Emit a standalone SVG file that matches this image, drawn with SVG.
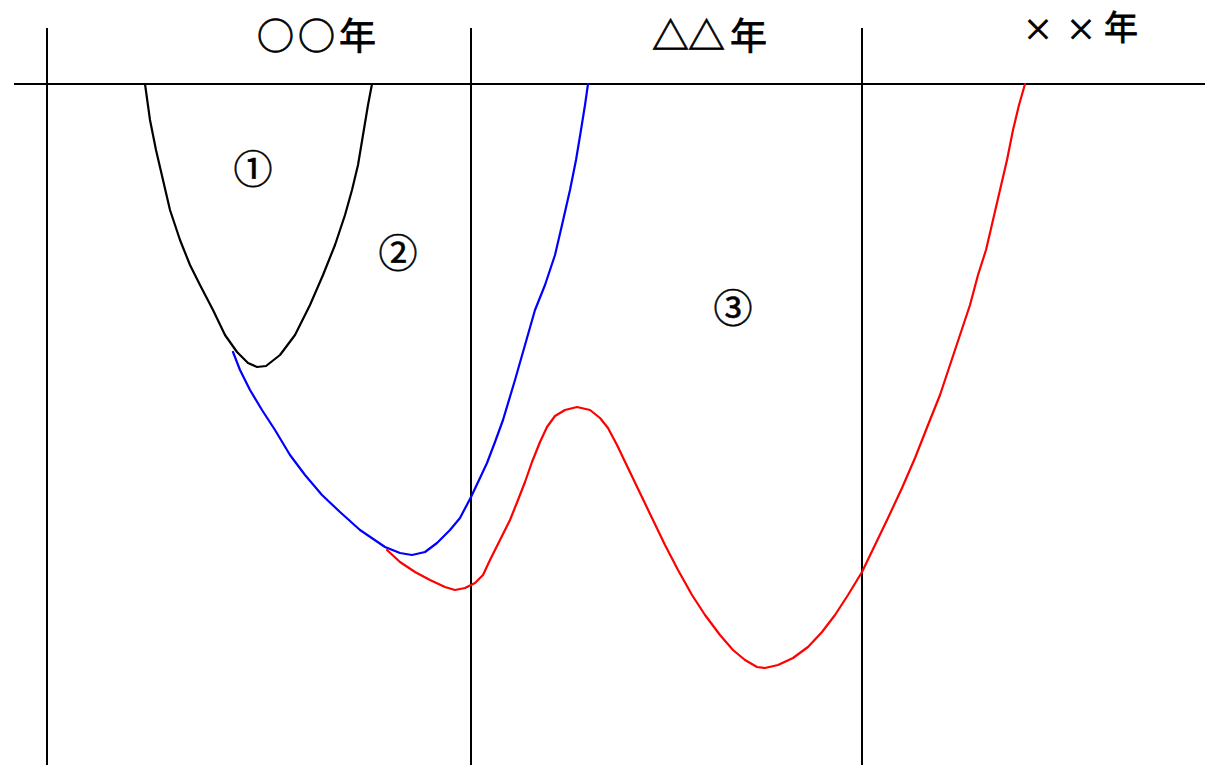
<svg xmlns="http://www.w3.org/2000/svg" width="1205" height="765" viewBox="0 0 1205 765">
<style>
.axis{stroke:#000;stroke-width:2;fill:none}
.curve{fill:none;stroke-width:2.2;stroke-linejoin:round;stroke-linecap:round}
.hdr{font-family:"Noto Sans CJK JP","Noto Sans CJK SC",sans-serif;font-size:37px;fill:#000;stroke:#000;stroke-width:0.8}
.lbl{font-family:"Noto Sans CJK JP","Noto Sans CJK SC",sans-serif;font-size:39px;fill:#000;stroke:#000;stroke-width:0.6;text-anchor:middle}
</style>
<rect width="1205" height="765" fill="#fff"/>
<g id="axes">
<line class="axis" x1="14" y1="84" x2="1205" y2="84"/>
<line class="axis" x1="47" y1="28" x2="47" y2="765"/>
<line class="axis" x1="471" y1="28" x2="471" y2="765"/>
<line class="axis" x1="862" y1="28" x2="862" y2="765"/>
</g>
<g id="headers">
<text class="hdr" y="50"><tspan x="257">○</tspan><tspan x="298">○</tspan><tspan x="339">年</tspan></text>
<text class="hdr" y="50"><tspan x="652">△</tspan><tspan x="688">△</tspan><tspan x="730">年</tspan></text>
<text class="hdr" y="40" style="font-size:34px"><tspan x="1023" style="font-size:30px">×</tspan><tspan x="1066" style="font-size:30px">×</tspan><tspan x="1104">年</tspan></text>
</g>
<g id="curves">
<polyline id="curve1" class="curve" stroke="#000" points="145,84 150,120 156,150 163,180 170,210 180,240 190,265 200,285 213,310 225,335 237,352 248,363 257,367 266,366 280,355 295,335 310,305 323,275 335,245 345,215 352,190 358,165 363,135 368,105 372,84"/>
<polyline id="curve2" class="curve" stroke="#0000ff" points="233,352 240,370 250,390 262,410 275,430 290,455 305,475 322,495 340,512 360,530 385,547 400,553 412,555 425,552 437,543 450,530 460,518 471,497 480,478 487,463 495,442 503,420 515,380 525,345 535,310 545,285 555,255 562,225 570,190 576,160 581,130 585,105 588,84"/>
<polyline id="curve3" class="curve" stroke="#ff0000" points="387,550 400,562 415,572 430,580 445,587 455,590 465,588 475,583 483,575 490,560 500,540 510,520 518,500 525,482 532,462 540,442 547,427 555,416 565,410 577,407 590,410 600,418 608,428 617,445 628,468 640,493 652,518 665,545 678,570 692,595 705,615 720,635 733,650 745,660 757,667 765,668 778,665 793,658 808,647 822,632 835,615 848,595 862,572 875,545 888,518 902,488 915,458 928,425 940,395 950,365 960,335 970,305 978,275 986,250 993,220 1000,190 1007,160 1013,130 1019,105 1025,84"/>
</g>
<g id="labels">
<text class="lbl" x="253" y="183">①</text>
<text class="lbl" x="398" y="267">②</text>
<text class="lbl" x="733" y="322">③</text>
</g>
</svg>
